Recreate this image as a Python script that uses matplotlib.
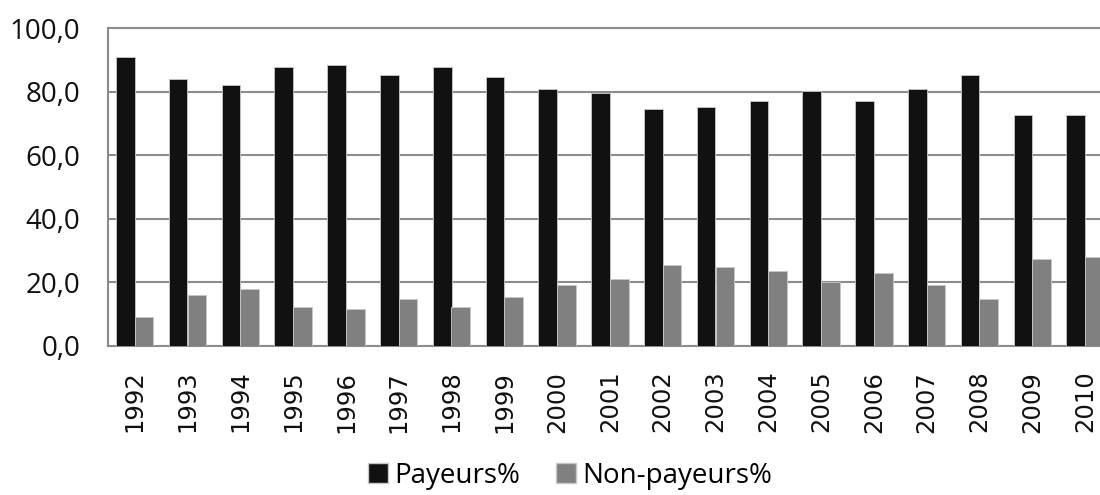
import numpy as np
import matplotlib.pyplot as plt
from matplotlib.patches import Patch

years = ['1992', '1993', '1994', '1995', '1996', '1997', '1998', '1999', '2000', '2001',
         '2002', '2003', '2004', '2005', '2006', '2007', '2008', '2009', '2010']
payeurs = [90.9, 83.9, 82.1, 87.7, 88.4, 85.2, 87.7, 84.6, 80.8, 79.6,
           74.5, 75.1, 77.0, 80.2, 77.0, 80.8, 85.2, 72.6, 72.6]
non_payeurs = [8.9, 15.9, 17.8, 12.2, 11.5, 14.7, 12.2, 15.3, 19.1, 21.0,
               25.4, 24.8, 23.5, 20.1, 22.9, 19.1, 14.7, 27.3, 27.9]
y_ticks = [0, 20, 40, 60, 80, 100]

W, H = 1100, 495
fig = plt.figure(figsize=(W / 100, H / 100), dpi=100)
# plot area runs past the right edge of the picture (cropped like the original)
left, right, top, bottom = 108.3, 1111.5, 28.3, 345.7
ax = fig.add_axes([left / W, (H - bottom) / H, (right - left) / W, (bottom - top) / H])

x = np.arange(len(years))
bw = 0.355
ax.bar(x - bw / 2, payeurs, bw, color='#111111', edgecolor='#c8c8c8', linewidth=0.6, zorder=3)
ax.bar(x + bw / 2, non_payeurs, bw, color='#808080', edgecolor='#c8c8c8', linewidth=0.6, zorder=3)

ax.set_xlim(-0.5, len(years) - 0.5)
ax.set_ylim(0, 100)
ax.set_yticks(y_ticks)
ax.set_yticklabels([f'{v:.1f}'.replace('.', ',') for v in y_ticks],
                   fontsize=20, family='Open Sans', color='#111111')
ax.set_xticks(x)
ax.set_xticklabels(years, rotation=90, fontsize=17.5, family='DejaVu Sans',
                   color='#111111', va='top')
ax.tick_params(axis='y', length=0, pad=20)
ax.tick_params(axis='x', length=0, pad=18)

ax.grid(axis='y', color='#8c8c8c', linewidth=1.5, zorder=0)
for s in ['left', 'top', 'bottom']:
    ax.spines[s].set_color('#8c8c8c')
    ax.spines[s].set_linewidth(1.5)
ax.spines['right'].set_visible(False)

handles = [Patch(facecolor='#111111', edgecolor='#c8c8c8', label='Payeurs%'),
           Patch(facecolor='#808080', edgecolor='#c8c8c8', label='Non-payeurs%')]
fig.legend(handles=handles, loc='center', bbox_to_anchor=(570 / W, (H - 476) / H),
           ncol=2, frameon=False, prop={'family': 'Open Sans', 'size': 20},
           handlelength=0.72, handleheight=0.72, handletextpad=0.22, columnspacing=1.3,
           borderpad=0)

fig.savefig('out.png', dpi=100)
